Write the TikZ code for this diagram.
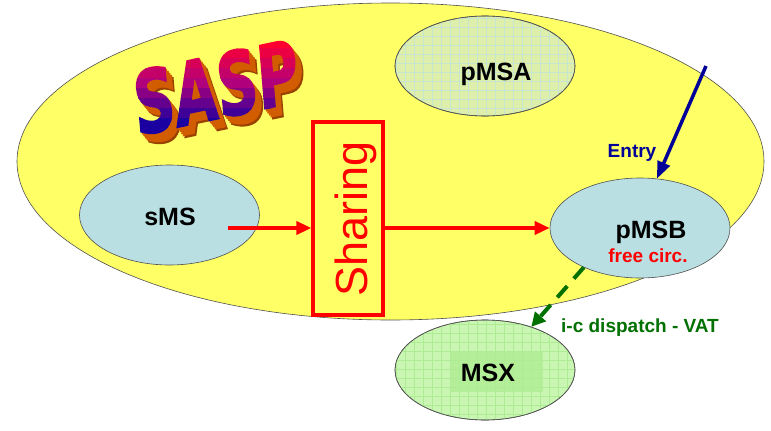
\documentclass[tikz,border=0pt]{standalone}
\usepackage{fontspec}
\setmainfont{Liberation Sans}
\newfontfamily\saspfont[BoldItalicFeatures={FakeBold=2}]{DejaVu Sans}
\usetikzlibrary{shapes.geometric,arrows.meta}
\definecolor{bigyel}{HTML}{FFFF66}
\definecolor{bigline}{HTML}{505050}
\definecolor{ellline}{HTML}{505050}
\definecolor{sblue}{HTML}{B9DFE3}
\definecolor{pmsafill}{HTML}{DDEFAA}
\definecolor{pmsagrid}{HTML}{C6E6D0}
\definecolor{msxfill}{HTML}{C9F6B2}
\definecolor{msxgrid}{HTML}{ADEC93}
\definecolor{msxrect}{HTML}{B4EE98}
\definecolor{entryblue}{HTML}{000099}
\definecolor{icgreen}{HTML}{007000}
\definecolor{saspred}{HTML}{FF0030}
\definecolor{saspmid}{HTML}{B0007C}
\definecolor{saspblue}{HTML}{1A00A0}
\definecolor{saspext}{HTML}{D25C00}
\definecolor{saspdark}{HTML}{9A4200}
\begin{document}
\begin{tikzpicture}[x=1pt,y=-1pt,
  ell/.style={ellipse, draw=ellline, line width=0.6pt, minimum width=180pt, minimum height=100pt, inner sep=0pt},
  lbl/.style={anchor=base, font=\fontsize{25}{25}\selectfont\bfseries},
  smalllbl/.style={anchor=base, font=\fontsize{19}{19}\selectfont\bfseries},
  redarrow/.style={draw=red, line width=3.5pt, -{Triangle[length=15pt,width=13pt]}},
  entryarrow/.style={draw=entryblue, line width=3.5pt, -{Triangle[length=17pt,width=13pt]}},
  greenarrow/.style={draw=icgreen, line width=4pt, dash pattern=on 15pt off 10pt, -{Triangle[length=14pt,width=14pt]}},
  sharebox/.style={draw=red, line width=3.2pt, minimum width=70pt, minimum height=193pt, inner sep=0pt},
  saspstyle/.style={rotate=12, xscale=0.66, inner sep=0pt, font=\fontsize{86}{86}\selectfont\saspfont\bfseries\itshape}
]
\useasboundingbox (0,0) rectangle (771,431);

% big ellipse
\node[ellipse, draw=bigline, line width=0.6pt, fill=bigyel, minimum width=747pt, minimum height=317pt, inner sep=0pt] (sasp) at (390.5,161.5) {};

% SASP word art: extrusion
\node[saspstyle, text=saspdark] (sx5) at (224,97) {SASP};
\node[saspstyle, text=saspext] (sx4) at (222.4,95) {SASP};
\node[saspstyle, text=saspext] (sx3) at (220.8,93) {SASP};
\node[saspstyle, text=saspext] (sx2) at (219.2,91) {SASP};
\node[saspstyle, text=saspext] (sx1) at (217.6,89) {SASP};
% SASP face with banded gradient (red top, purple middle, blue bottom)
\foreach \i in {0,...,8} {
  \pgfmathsetmacro\yA{\i==0 ? 0 : 38+10*\i}
  \pgfmathsetmacro\yB{\i==8 ? 200 : 38+10*(\i+1)+0.4}
  \ifnum\i<4
    \pgfmathtruncatemacro\mix{100*\i/4}
    \colorlet{bandcol}{saspmid!\mix!saspred}
  \else
    \pgfmathtruncatemacro\mix{100*(\i-4)/4}
    \colorlet{bandcol}{saspblue!\mix!saspmid}
  \fi
  \begin{scope}
    \clip (100,\yA) rectangle (330,\yB);
    \node[saspstyle, text=bandcol] (sf\i) at (216,87) {SASP};
  \end{scope}
}

% pMSA
\node[ell, fill=pmsafill] (pmsa) at (485,66) {};
\begin{scope}
  \clip (pmsa.center) ellipse [x radius=90pt, y radius=50pt];
  \draw[pmsagrid, line width=0.7pt, step=9pt] (390,10) grid (580,120);
\end{scope}
\draw[ellline, line width=0.6pt] (pmsa.center) ellipse [x radius=90pt, y radius=50pt];
\node[lbl] (pmsatxt) at (496,80) {pMSA};

% sMS
\node[ell, fill=sblue] (sms) at (169.5,215) {};
\node[lbl] (smstxt) at (170,225) {sMS};

% pMSB
\node[ell, fill=sblue] (pmsb) at (640,228) {};
\node[lbl] (pmsbtxt) at (651,238) {pMSB};
\node[smalllbl, text=red] (freec) at (648,262) {free circ.};

% MSX
\node[ell, fill=msxfill] (msx) at (485,370) {};
\fill[msxrect] (450,352) rectangle (543,392);
\begin{scope}
  \clip (msx.center) ellipse [x radius=90pt, y radius=50pt];
  \draw[msxgrid, line width=0.7pt, step=9pt] (390,315) grid (580,425);
\end{scope}
\draw[ellline, line width=0.6pt] (msx.center) ellipse [x radius=90pt, y radius=50pt];
\node[lbl] (msxtxt) at (488,381) {MSX};

% Sharing box
\node[sharebox] (sharing) at (348,218.5) {};
\node[rotate=90, anchor=base, text=red, inner sep=0pt, font=\fontsize{45}{45}\selectfont] (sharetxt) at (367,218.5) {Sharing};

% red arrows
\coordinate (s1) at (228,228);
\draw[redarrow] (s1) -- (s1 -| sharing.west);
\draw[redarrow] (s1 -| sharing.east) -- (pmsb.west);

% Entry arrow
\coordinate (entrystart) at (706,66);
\draw[entryarrow] (entrystart) -- (pmsb.71);
\node[smalllbl, text=entryblue] (entry) at (632,157) {Entry};

% green dashed arrow
\draw[greenarrow] (pmsb.215) -- (msx.43);
\node[smalllbl, text=icgreen] (ictxt) at (640,332) {i-c dispatch - VAT};
\end{tikzpicture}
\end{document}
